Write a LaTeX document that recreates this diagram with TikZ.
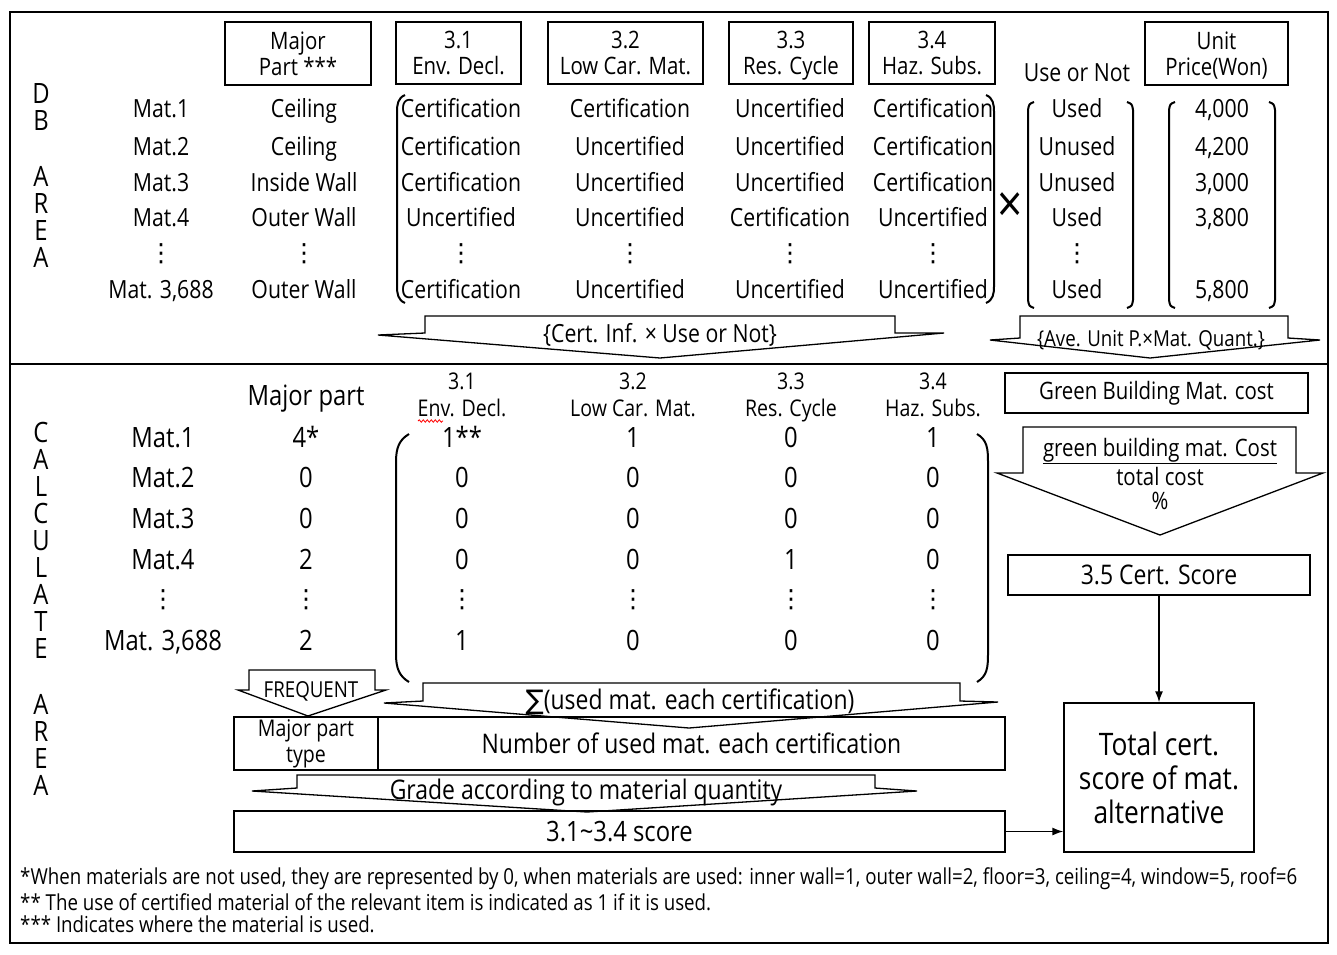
\documentclass[tikz,border=0pt]{standalone}
\usepackage{fontspec}
\setmainfont{Open Sans}[FakeStretch=0.85]
\newfontfamily\dejavu{DejaVu Sans}
\usetikzlibrary{arrows.meta,decorations.pathmorphing}

\newcommand{\vd}{{\dejavu ⋮}}

\tikzset{
  cell/.style={font=\fontsize{25}{26}\selectfont, inner sep=0pt, text height=18pt, text depth=0pt},
  big/.style={font=\fontsize{28}{28}\selectfont, inner sep=0pt, text height=20pt, text depth=0pt},
  hbox/.style={draw, line width=1.3pt, align=center, font=\fontsize{24}{26}\selectfont, inner sep=0pt},
  letters/.style={align=center, font=\fontsize{28}{27}\selectfont, inner sep=0pt},
  blk/.style={draw, line width=1.3pt, fill=white, line join=miter},
  paren/.style={line width=2pt},
  note/.style={font=\fontsize{22}{22}\selectfont, anchor=west, inner sep=0pt},
  link/.style={line width=1.5pt, -{Latex[length=11pt,width=8pt]}},
}

\begin{document}
\begin{tikzpicture}[x=1pt,y=-1pt]
        \useasboundingbox (0,0) rectangle (1337,954);
        \draw[line width=2.5pt] (10,12) rectangle (1328,943);
        \draw[line width=2pt] (10,364) -- (1328,364);

        % DB area
        \node[letters] (db) at (41,107.5) {D\\B};
        \node[letters] (dbarea) at (41,216.5) {A\\R\\E\\A};

        \node[hbox, minimum width=146, minimum height=63] (hmaj) at (298,53.5) {Major\\Part ***};
        \node[hbox, minimum width=125, minimum height=62] (h31) at (458.5,53) {3.1\\Env. Decl.};
        \node[hbox, minimum width=155, minimum height=62] (h32) at (625.5,53) {3.2\\Low Car. Mat.};
        \node[hbox, minimum width=124, minimum height=62] (h33) at (791,53) {3.3\\\smash{Res. Cycle}};
        \node[hbox, minimum width=126, minimum height=62] (h34) at (932,53) {3.4\\Haz. Subs.};
        \node[cell] (huse) at (1077,72) {Use or Not};
        \node[hbox, minimum width=143, minimum height=63] (hpri) at (1216.5,53.5) {Unit\\\smash{Price(Won)}};

        \node[cell] (m1) at (161,108) {Mat.1};
        \node[cell] (m2) at (161,146) {Mat.2};
        \node[cell] (m3) at (161,182) {Mat.3};
        \node[cell] (m4) at (161,217) {Mat.4};
        \node[cell] (m5) at (161,252) {\vd};
        \node[cell] (m6) at (161,289) {Mat. 3,688};

        \node[cell] (p1) at (304,108) {Ceiling};
        \node[cell] (p2) at (304,146) {Ceiling};
        \node[cell] (p3) at (304,182) {Inside Wall};
        \node[cell] (p4) at (304,217) {Outer Wall};
        \node[cell] (p5) at (304,252) {\vd};
        \node[cell] (p6) at (304,289) {Outer Wall};

        \node[cell] (a1) at (461,108) {Certification};
        \node[cell] (a2) at (461,146) {Certification};
        \node[cell] (a3) at (461,182) {Certification};
        \node[cell] (a4) at (461,217) {Uncertified};
        \node[cell] (a5) at (461,252) {\vd};
        \node[cell] (a6) at (461,289) {Certification};

        \node[cell] (b1) at (630,108) {Certification};
        \node[cell] (b2) at (630,146) {Uncertified};
        \node[cell] (b3) at (630,182) {Uncertified};
        \node[cell] (b4) at (630,217) {Uncertified};
        \node[cell] (b5) at (630,252) {\vd};
        \node[cell] (b6) at (630,289) {Uncertified};

        \node[cell] (c1) at (790,108) {Uncertified};
        \node[cell] (c2) at (790,146) {Uncertified};
        \node[cell] (c3) at (790,182) {Uncertified};
        \node[cell] (c4) at (790,217) {Certification};
        \node[cell] (c5) at (790,252) {\vd};
        \node[cell] (c6) at (790,289) {Uncertified};

        \node[cell] (d1) at (933,108) {Certification};
        \node[cell] (d2) at (933,146) {Certification};
        \node[cell] (d3) at (933,182) {Certification};
        \node[cell] (d4) at (933,217) {Uncertified};
        \node[cell] (d5) at (933,252) {\vd};
        \node[cell] (d6) at (933,289) {Uncertified};

        \node[cell] (u1) at (1077,108) {Used};
        \node[cell] (u2) at (1077,146) {Unused};
        \node[cell] (u3) at (1077,182) {Unused};
        \node[cell] (u4) at (1077,217) {Used};
        \node[cell] (u5) at (1077,252) {\vd};
        \node[cell] (u6) at (1077,289) {Used};

        \node[cell] (w1) at (1222,108) {4,000};
        \node[cell] (w2) at (1222,146) {4,200};
        \node[cell] (w3) at (1222,182) {3,000};
        \node[cell] (w4) at (1222,217) {3,800};
        \node[cell] (w6) at (1222,289) {5,800};

        % brackets
        \draw[paren] (405,95) .. controls (398,98) and (397,104) .. (397,112) -- (397,286) .. controls (397,294) and (398,300) .. (405,303);
        \draw[paren] (986,95) .. controls (993,98) and (994,104) .. (994,112) -- (994,286) .. controls (994,294) and (993,300) .. (986,303);
        \node[font=\fontsize{52}{52}\selectfont, inner sep=0pt] (times) at (1010,208) {×};
        \draw[paren] (1034,102) .. controls (1029,104) .. (1028,110) -- (1028,300) .. controls (1029,306) .. (1034,308);
        \draw[paren] (1127,102) .. controls (1132,104) .. (1133,110) -- (1133,300) .. controls (1132,306) .. (1127,308);
        \draw[paren] (1175,102) .. controls (1170,104) .. (1169,110) -- (1169,300) .. controls (1170,306) .. (1175,308);
        \draw[paren] (1269,102) .. controls (1274,104) .. (1275,110) -- (1275,300) .. controls (1274,306) .. (1269,308);

        \draw[blk] (425,316) -- (895,316) -- (895,333) -- (944,333) -- (660,358) -- (378,335) -- (425,333) -- cycle;
        \node[cell] (certinf) at (660,333) {\{Cert. Inf. × Use or Not\}};
        \draw[blk] (1020,316) -- (1288,316) -- (1288,338) -- (1320,340) -- (1150,358) -- (990,340) -- (1020,338) -- cycle;
        \node[cell, font=\fontsize{22}{22}\selectfont] (aveunit) at (1151,337) {\{Ave. Unit P.×Mat. Quant.\}};

        % calculate area
        \node[letters] (calc) at (41,540) {C\\A\\L\\C\\U\\L\\A\\T\\E};
        \node[letters] (calcarea) at (41,745) {A\\R\\E\\A};

        \node[big] (lmaj) at (306,395) {Major part};
        \node[hbox, draw=none, font=\fontsize{23}{27}\selectfont] (l31) at (462,395) {3.1\\Env. Decl.};
        \node[hbox, draw=none, font=\fontsize{23}{27}\selectfont] (l32) at (633,395) {3.2\\Low Car. Mat.};
        \node[hbox, draw=none, font=\fontsize{23}{27}\selectfont] (l33) at (791,395) {3.3\\\smash{Res. Cycle}};
        \node[hbox, draw=none, font=\fontsize{23}{27}\selectfont] (l34) at (933,395) {3.4\\Haz. Subs.};
        \draw[red, line width=0.8pt, decorate, decoration={snake, amplitude=1.2pt, segment length=4pt}] (418,421) -- (443,421);

        \node[big] (n1) at (163,437) {Mat.1};
        \node[big] (n2) at (163,477) {Mat.2};
        \node[big] (n3) at (163,518) {Mat.3};
        \node[big] (n4) at (163,559) {Mat.4};
        \node[cell] (n5) at (163,598) {\vd};
        \node[big] (n6) at (163,640) {Mat. 3,688};

        \node[big] (q1) at (306,437) {4*};
        \node[big] (q2) at (306,477) {0};
        \node[big] (q3) at (306,518) {0};
        \node[big] (q4) at (306,559) {2};
        \node[cell] (q5) at (306,598) {\vd};
        \node[big] (q6) at (306,640) {2};

        \node[big] (e1) at (462,437) {1**};
        \node[big] (e2) at (462,477) {0};
        \node[big] (e3) at (462,518) {0};
        \node[big] (e4) at (462,559) {0};
        \node[cell] (e5) at (462,598) {\vd};
        \node[big] (e6) at (462,640) {1};

        \node[big] (f1) at (633,437) {1};
        \node[big] (f2) at (633,477) {0};
        \node[big] (f3) at (633,518) {0};
        \node[big] (f4) at (633,559) {0};
        \node[cell] (f5) at (633,598) {\vd};
        \node[big] (f6) at (633,640) {0};

        \node[big] (g1) at (791,437) {0};
        \node[big] (g2) at (791,477) {0};
        \node[big] (g3) at (791,518) {0};
        \node[big] (g4) at (791,559) {1};
        \node[cell] (g5) at (791,598) {\vd};
        \node[big] (g6) at (791,640) {0};

        \node[big] (k1) at (933,437) {1};
        \node[big] (k2) at (933,477) {0};
        \node[big] (k3) at (933,518) {0};
        \node[big] (k4) at (933,559) {0};
        \node[cell] (k5) at (933,598) {\vd};
        \node[big] (k6) at (933,640) {0};

        \draw[paren] (409,434) .. controls (399,440) and (396,448) .. (396,462) -- (396,654) .. controls (396,668) and (399,676) .. (409,682);
        \draw[paren] (977,434) .. controls (987,440) and (988,448) .. (988,462) -- (988,654) .. controls (988,668) and (987,676) .. (977,682);

        % arrows into the result boxes
        \draw[blk] (249,670) -- (375,670) -- (375,690) -- (386,690) -- (308,716) -- (238,690) -- (249,690) -- cycle;
        \node[cell, font=\fontsize{22}{22}\selectfont] (freq) at (311,688) {FREQUENT};
        \draw[blk] (423,683) -- (960,683) -- (960,701) -- (998,702) -- (689,728) -- (384,703) -- (423,701) -- cycle;
        \node[cell, font=\fontsize{27}{27}\selectfont] (sumtxt) at (690,700) {{\dejavu ∑}(used mat. each certification)};

        \node[hbox, minimum width=144, minimum height=53, font=\fontsize{23}{26}\selectfont] (mpt) at (306,743.5) {Major part\\type};
        \node[hbox, minimum width=627, minimum height=53, font=\fontsize{27}{28}\selectfont] (num) at (691.5,743.5) {Number of used mat. each certification};

        \draw[blk] (297,775) -- (875,775) -- (875,788) -- (917,791) -- (587,812) -- (252,791) -- (297,788) -- cycle;
        \node[cell, font=\fontsize{27}{27}\selectfont] (grade) at (586,790) {Grade according to material quantity};
        \node[hbox, minimum width=771, minimum height=41, font=\fontsize{28}{28}\selectfont] (sc) at (619.5,831.5) {3.1\textasciitilde 3.4 score};

        % green building cost
        \node[hbox, minimum width=303, minimum height=40] (gbm) at (1156.5,393) {Green Building Mat. cost};
        \draw[blk] (1023,427) -- (1296,427) -- (1296,473) -- (1323,473) -- (1160,535) -- (997,473) -- (1023,473) -- cycle;
        \node[cell, font=\fontsize{24}{24}\selectfont] (gnum) at (1160,447) {green building mat. Cost};
        \draw[line width=1.2pt] ([yshift=-7pt]gnum.south west) -- ([yshift=-7pt]gnum.south east);
        \node[cell, font=\fontsize{24}{24}\selectfont] (gden) at (1160,476) {total cost};
        \node[cell, font=\fontsize{24}{24}\selectfont] (gpct) at (1160,500) {\%};
        \node[hbox, minimum width=302, minimum height=40, font=\fontsize{27}{28}\selectfont] (cs) at (1159,575) {3.5 Cert. Score};
        \node[hbox, minimum width=190, minimum height=149, font=\fontsize{31}{34}\selectfont] (tot) at (1159,777.5) {Total cert.\\score of mat.\\alternative};
        \draw[link] (cs) -- (tot);
        \draw[link] (sc.east) -- (tot.west |- sc.east);

        % notes
        \node[note] (note1) at (20,879) {*When materials are not used, they are represented by 0, when materials are used: inner wall=1, outer wall=2, floor=3, ceiling=4, window=5, roof=6};
        \node[note] (note2) at (20,902) {** The use of certified material of the relevant item is indicated as 1 if it is used.};
        \node[note] (note3) at (20,924) {*** Indicates where the material is used.};
        \end{tikzpicture}
\end{document}
